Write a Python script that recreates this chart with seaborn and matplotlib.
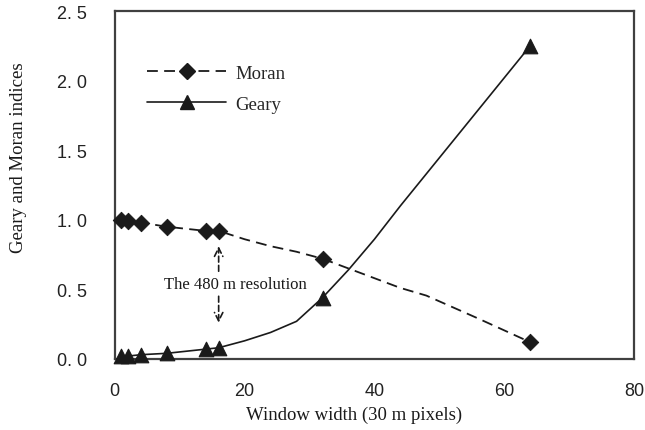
import seaborn as sns
import matplotlib.pyplot as plt
import pandas as pd
from matplotlib.lines import Line2D

sns.set_theme(style="white")
plt.rcParams['font.family'] = ['Liberation Serif', 'DejaVu Serif']

# marker points (window widths with symbols)
marker_x = [1, 2, 4, 8, 14, 16, 32, 64]
moran_marker = [1.00, 0.99, 0.98, 0.95, 0.92, 0.92, 0.72, 0.12]
geary_marker = [0.02, 0.02, 0.03, 0.04, 0.07, 0.08, 0.44, 2.25]

# full curves (all window widths)
line_x = [1, 2, 4, 8, 14, 16, 20, 24, 28, 32, 36, 40, 44, 48, 56, 64]
moran_line = [1.00, 0.99, 0.98, 0.95, 0.92, 0.92, 0.86, 0.81, 0.77, 0.72,
              0.65, 0.58, 0.51, 0.455, 0.29, 0.12]
geary_line = [0.02, 0.02, 0.03, 0.04, 0.07, 0.08, 0.13, 0.19, 0.27, 0.44,
              0.64, 0.86, 1.10, 1.33, 1.79, 2.25]

x_ticks = [0, 20, 40, 60, 80]
y_ticks = [0.0, 0.5, 1.0, 1.5, 2.0, 2.5]
y_tick_labels = ["0. 0", "0. 5", "1. 0", "1. 5", "2. 0", "2. 5"]

df_line = pd.DataFrame({'x': line_x, 'Moran': moran_line, 'Geary': geary_line})
df_mark = pd.DataFrame({'x': marker_x, 'Moran': moran_marker, 'Geary': geary_marker})

ink = '#1a1a1a'
fig = plt.figure(figsize=(6.45, 4.31), dpi=100)
ax = fig.add_axes([0.178, 0.165, 0.805, 0.807])

sns.lineplot(x='x', y='Moran', data=df_line, ax=ax, color=ink, lw=1.3,
             linestyle=(0, (6, 3.5)), sort=False)
sns.lineplot(x='x', y='Geary', data=df_line, ax=ax, color=ink, lw=1.2, sort=False)
sns.scatterplot(x='x', y='Moran', data=df_mark, ax=ax, marker='D', s=70,
                color=ink, edgecolor=ink, zorder=5, clip_on=False)
sns.scatterplot(x='x', y='Geary', data=df_mark, ax=ax, marker='^', s=110,
                color=ink, edgecolor=ink, zorder=5, clip_on=False)

ax.set_xlim(0, 80)
ax.set_ylim(0, 2.5)
ax.set_xticks(x_ticks)
ax.set_yticks(y_ticks)
ax.set_yticklabels(y_tick_labels)
for lab in ax.get_xticklabels() + ax.get_yticklabels():
    lab.set_family(['Liberation Sans', 'DejaVu Sans'])
    lab.set_fontsize(13)
    lab.set_color('#222222')
ax.tick_params(axis='both', direction='in', length=5, width=1.2, color='#404040')
ax.tick_params(axis='y', pad=20)
ax.tick_params(axis='x', pad=17)

for sp in ax.spines.values():
    sp.set_color('#404040')
    sp.set_linewidth(1.6)

ax.set_xlabel('Window width (30 m pixels)', fontsize=13.5, color=ink)
ax.set_ylabel('Geary and Moran indices', fontsize=13.5, color=ink)
ax.xaxis.set_label_coords(0.46, -0.135)
ax.yaxis.set_label_coords(-0.17, 0.58)

# annotation for 480 m resolution
arrow_style = dict(arrowstyle='->', color=ink, lw=1.2, linestyle=(0, (3.5, 2)),
                   mutation_scale=15)
ax.annotate('', xy=(16, 0.83), xytext=(16, 0.61), arrowprops=arrow_style)
ax.annotate('', xy=(16, 0.24), xytext=(16, 0.47), arrowprops=arrow_style)
ax.text(18.6, 0.54, 'The 480 m resolution', fontsize=12, ha='center', va='center',
        color=ink, bbox=dict(facecolor='white', edgecolor='none', pad=1))

handles = [
    Line2D([0], [0], color=ink, lw=1.3, linestyle=(0, (6, 3.5)), marker='D',
           markersize=8, markerfacecolor=ink, markeredgecolor=ink),
    Line2D([0], [0], color=ink, lw=1.2, marker='^', markersize=10,
           markerfacecolor=ink, markeredgecolor=ink),
]
ax.legend(handles, ['Moran', 'Geary'], loc='upper left', bbox_to_anchor=(0.03, 0.895),
          frameon=False, fontsize=13.5, handlelength=4.2, handletextpad=0.5,
          labelspacing=0.75)

fig.savefig('out.png', dpi=100)
